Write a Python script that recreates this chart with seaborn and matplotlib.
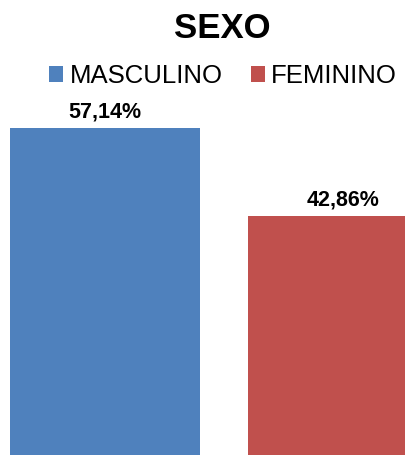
import matplotlib
matplotlib.use("Agg")
import matplotlib.pyplot as plt
from matplotlib.patches import Patch
import seaborn as sns
import pandas as pd

categories = ["MASCULINO", "FEMININO"]
values = [57.14, 42.86]
value_labels = ["57,14%", "42,86%"]
colors = ["#4F81BD", "#C0504D"]
title = "SEXO"

sns.set_theme(style="white")
plt.rcParams['font.family'] = ['Liberation Sans', 'DejaVu Sans']
plt.rcParams['text.color'] = '#000000'

W, H = 406, 455
fig = plt.figure(figsize=(W / 100, H / 100), dpi=100)
# axes extends beyond the figure (chart is cropped in the reference)
ax = fig.add_axes([-14 / W, -25 / H, 476 / W, 480 / H])

df = pd.DataFrame({"cat": categories, "val": values})
sns.barplot(data=df, x="cat", y="val", hue="cat", palette=colors,
            ax=ax, legend=False, width=0.8, saturation=1, linewidth=0)
ax.set_xlim(-0.5, 1.5)
ax.set_ylim(0, 77.9)
ax.set_axis_off()

for i, (v, lab) in enumerate(zip(values, value_labels)):
    ax.annotate(lab, (i, v), xytext=(0, 4), textcoords="offset points",
                ha="center", va="bottom", fontsize=15.5, fontweight="bold",
                color="#000000")

fig.text(222 / W, 1 - 28 / H, title, ha="center", va="center",
         fontsize=25, fontweight="bold", color="#000000")

handles = [Patch(facecolor=c, edgecolor="none") for c in colors]
fig.legend(handles, categories, loc="center", bbox_to_anchor=(223 / W, 1 - 76 / H),
           ncol=2, frameon=False, fontsize=18.5, handlelength=0.55,
           handleheight=0.55, handletextpad=0.25, columnspacing=1.1,
           borderpad=0, borderaxespad=0, labelcolor="#000000")

fig.savefig("out.png", dpi=100)
